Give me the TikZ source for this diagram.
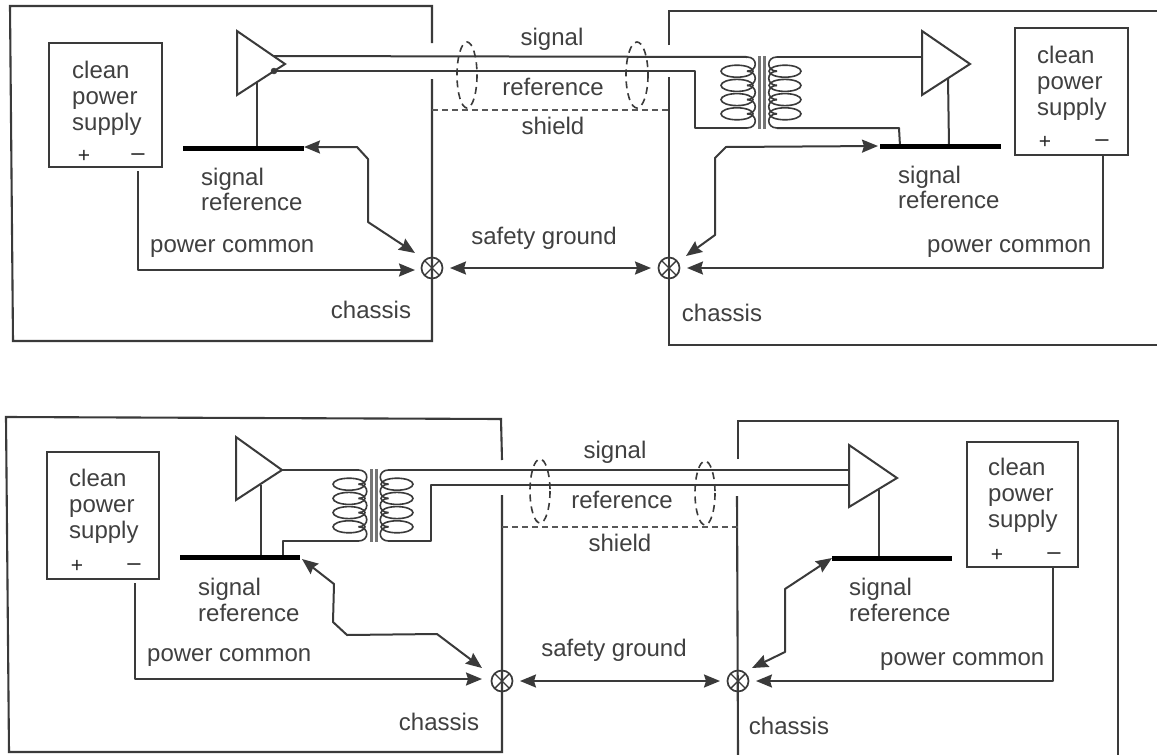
\documentclass[tikz,border=0pt]{standalone}
\usepackage{fontspec}
\setmainfont{Liberation Sans}
\usetikzlibrary{arrows.meta,calc}
\definecolor{ink}{HTML}{3A3A3A}
\tikzset{
 x=1pt,y=-1pt,
 wire/.style={draw=ink,line width=2pt,line join=round},
 arrow/.style={wire,-{Stealth[length=16pt,width=13pt,inset=2pt]}},
 biarrow/.style={wire,{Stealth[length=16pt,width=13pt,inset=2pt]}-{Stealth[length=16pt,width=13pt,inset=2pt]}},
 chassisline/.style={draw=ink,line width=2.1pt,line join=miter},
 bar/.style={draw=black,line width=5pt},
 dashline/.style={draw=ink!85,line width=1.6pt,dash pattern=on 6pt off 4pt},
 loopdash/.style={draw=ink,line width=1.6pt,dash pattern=on 7pt off 5pt},
 psu/.style={draw=ink,line width=2pt,fill=white},
 amp/.style={draw=ink,line width=2pt,fill=white,line join=miter},
 lab/.style={font=\fontsize{24}{26}\selectfont,text=black!75,inner sep=0pt,anchor=base west},
 labc/.style={font=\fontsize{24}{26}\selectfont,text=black!75,inner sep=0pt,anchor=base},
 pm/.style={font=\fontsize{21}{22}\selectfont,text=black!85,inner sep=0pt},
 pmm/.style={font=\fontsize{27}{28}\selectfont,text=black!70,inner sep=0pt},
 coilp/.style={draw=ink,line width=1.6pt},
 core/.style={draw=ink!70,line width=3pt},
 gnd/.style={circle,draw=ink,line width=1.7pt,minimum size=21pt,inner sep=0pt,
   path picture={\draw[ink,line width=1.4pt] (path picture bounding box.south west)--(path picture bounding box.north east)
   (path picture bounding box.north west)--(path picture bounding box.south east);}},
}
% #1 x of left ellipses centre, #2 x of right ellipses centre, #3 core x, #4 top y, #5 step y
\newcommand{\xfmr}[5]{%
 \foreach \k in {0,1,2,3,4}{
  \path[coilp] (#3-15,#4+\k*#5) .. controls (#3-4,#4+\k*#5) and (#3-4,#4+\k*#5+#5) .. (#3-15,#4+\k*#5+#5);
  \path[coilp] (#3+15,#4+\k*#5) .. controls (#3+4,#4+\k*#5) and (#3+4,#4+\k*#5+#5) .. (#3+15,#4+\k*#5+#5);
 }
 \foreach \k in {1,2,3,4}{
  \path[coilp] (#1,#4+\k*#5) ellipse (16 and 6);
  \path[coilp] (#2,#4+\k*#5) ellipse (16 and 6);
 }
 \path[core] (#3-2.5,#4-1) -- (#3-2.5,#4+5*#5+1);
 \path[core] (#3+2.5,#4-1) -- (#3+2.5,#4+5*#5+1);
}
\begin{document}
\begin{tikzpicture}
\useasboundingbox (0,0) rectangle (1157,755);
\fill[white] (0,0) rectangle (1157,755);

% ---------- TOP ----------
\path[chassisline] (432,43) -- (432,6) -- (10,6) -- (13,341) -- (432,341) -- (432,79);
\path[chassisline] (669,45) -- (669,11) -- (1157,11);
\path[chassisline] (669,77) -- (669,345) -- (1157,345);
\path[dashline] (432,110) -- (669,110);
\path[loopdash] (467,75) ellipse (10 and 33);
\path[loopdash] (637,75) ellipse (11 and 33);

% cable
\coordinate (ts1) at (273,56); \coordinate (tr1) at (273,71);
\path[wire] (ts1) -- (747,57);
\path[wire] (tr1) -- (695,71) -- (695,128) -- (747,128);
\path[wire] (777,57) -- (922,57);
\path[wire] (777,128) -- (899,128) -- (900,146);
\xfmr{737}{785}{762}{57}{14.2}

\path[amp] (237,31) -- (285,64) -- (237,95) -- cycle;
\path[wire] (257,83) -- (257,148);
\draw[ink,fill=ink] (274,71) circle (3);
\path[amp] (922,31) -- (970,64) -- (922,95) -- cycle;
\path[wire] (948,78) -- (949,146);
\path[bar] (183,148) -- (304,148);
\path[bar] (880,146) -- (1001,146);
\coordinate (tlb) at (304,147);
\coordinate (trb) at (878,146);

\node[gnd] (tlg) at (432,268) {};
\node[gnd] (trg) at (669,268) {};
\path[biarrow] (tlb) -- (357,147) -- (368,159) -- (368,222) -- (415,253);
\path[biarrow] (trb) -- (726,147) -- (715,158) -- (715,235) -- (686,256);
\path[biarrow] ($(tlg)+(18,0)$) -- ($(trg)+(-18,0)$);

\path[psu] (49,43) rectangle (162,167);
\path[psu] (1015,28) rectangle (1128,155);
\path[arrow] (138,171) -- (138,270) -- (415,270);
\path[arrow] (1103,155) -- (1103,268) -- (687,268);

\node[lab] (t1) at (72,78) {clean};
\node[lab] (t2) at (72,104) {power};
\node[lab] (t3) at (72,130) {supply};
\node[pm] (t4) at (84,156) {+};
\node[pmm] (t5) at (138,159) {−};
\node[lab] (t6) at (1037,63) {clean};
\node[lab] (t7) at (1037,89) {power};
\node[lab] (t8) at (1037,115) {supply};
\node[pm] (t9) at (1045,142) {+};
\node[pmm] (t10) at (1102,145) {−};
\node[labc] (t11) at (552,45) {signal};
\node[labc] (t12) at (553,95) {reference};
\node[labc] (t13) at (553,134) {shield};
\node[lab] (t14) at (201,185) {signal};
\node[lab] (t15) at (201,210) {reference};
\node[lab] (t16) at (898,183) {signal};
\node[lab] (t17) at (898,208) {reference};
\node[lab] (t18) at (150,252) {power common};
\node[lab] (t19) at (927,252) {power common};
\node[labc] (t20) at (544,244) {safety ground};
\node[labc] (t21) at (371,318) {chassis};
\node[labc] (t22) at (722,321) {chassis};

% ---------- BOTTOM ----------
\path[chassisline] (502,460) -- (501,419) -- (6,417) -- (9,752) -- (502,752) -- (502,495);
\path[chassisline] (738,459) -- (738,421) -- (1118,421) -- (1118,755);
\path[chassisline] (738,755) -- (737,496);
\path[dashline] (502,527) -- (738,527);
\path[loopdash] (540,491) ellipse (10 and 32);
\path[loopdash] (705,493) ellipse (10 and 32);

\path[wire] (282,470) -- (359,470);
\path[wire] (283,556) -- (283,541) -- (359,541);
\path[wire] (388,470) -- (849,470);
\path[wire] (388,541) -- (431,541) -- (431,485) -- (849,485);
\xfmr{349}{397}{373.5}{470}{14.2}

\path[amp] (236,437) -- (282,470) -- (236,500) -- cycle;
\path[wire] (261,485) -- (261,557);
\path[amp] (849,445) -- (897,478) -- (849,507) -- cycle;
\path[wire] (879,490) -- (879,558);
\path[bar] (180,557) -- (300,557);
\path[bar] (832,558) -- (952,558);
\coordinate (blb) at (302,559);
\coordinate (brb) at (832,558);

\node[gnd] (blg) at (502,681) {};
\node[gnd] (brg) at (738,681) {};
\path[biarrow] (blb) -- (334,584) -- (333,622) -- (347,635) -- (437,634) -- (482,668);
\path[biarrow] (brb) -- (785,589) -- (785,652) -- (752,668);
\path[biarrow] ($(blg)+(18,0)$) -- ($(brg)+(-18,0)$);

\path[psu] (47,452) rectangle (159,579);
\path[psu] (967,442) rectangle (1078,567);
\path[arrow] (135,583) -- (135,679) -- (482,679);
\path[arrow] (1053,567) -- (1053,681) -- (756,681);

\node[lab] (b1) at (69,486) {clean};
\node[lab] (b2) at (69,512) {power};
\node[lab] (b3) at (69,538) {supply};
\node[pm] (b4) at (77,566) {+};
\node[pmm] (b5) at (134,569) {−};
\node[lab] (b6) at (988,475) {clean};
\node[lab] (b7) at (988,501) {power};
\node[lab] (b8) at (988,527) {supply};
\node[pm] (b9) at (997,555) {+};
\node[pmm] (b10) at (1054,558) {−};
\node[labc] (b11) at (615,458) {signal};
\node[labc] (b12) at (622,508) {reference};
\node[labc] (b13) at (620,551) {shield};
\node[lab] (b14) at (198,595) {signal};
\node[lab] (b15) at (198,621) {reference};
\node[lab] (b16) at (849,595) {signal};
\node[lab] (b17) at (849,621) {reference};
\node[lab] (b18) at (147,661) {power common};
\node[lab] (b19) at (880,665) {power common};
\node[labc] (b20) at (614,656) {safety ground};
\node[labc] (b21) at (439,730) {chassis};
\node[labc] (b22) at (789,734) {chassis};
\end{tikzpicture}
\end{document}
